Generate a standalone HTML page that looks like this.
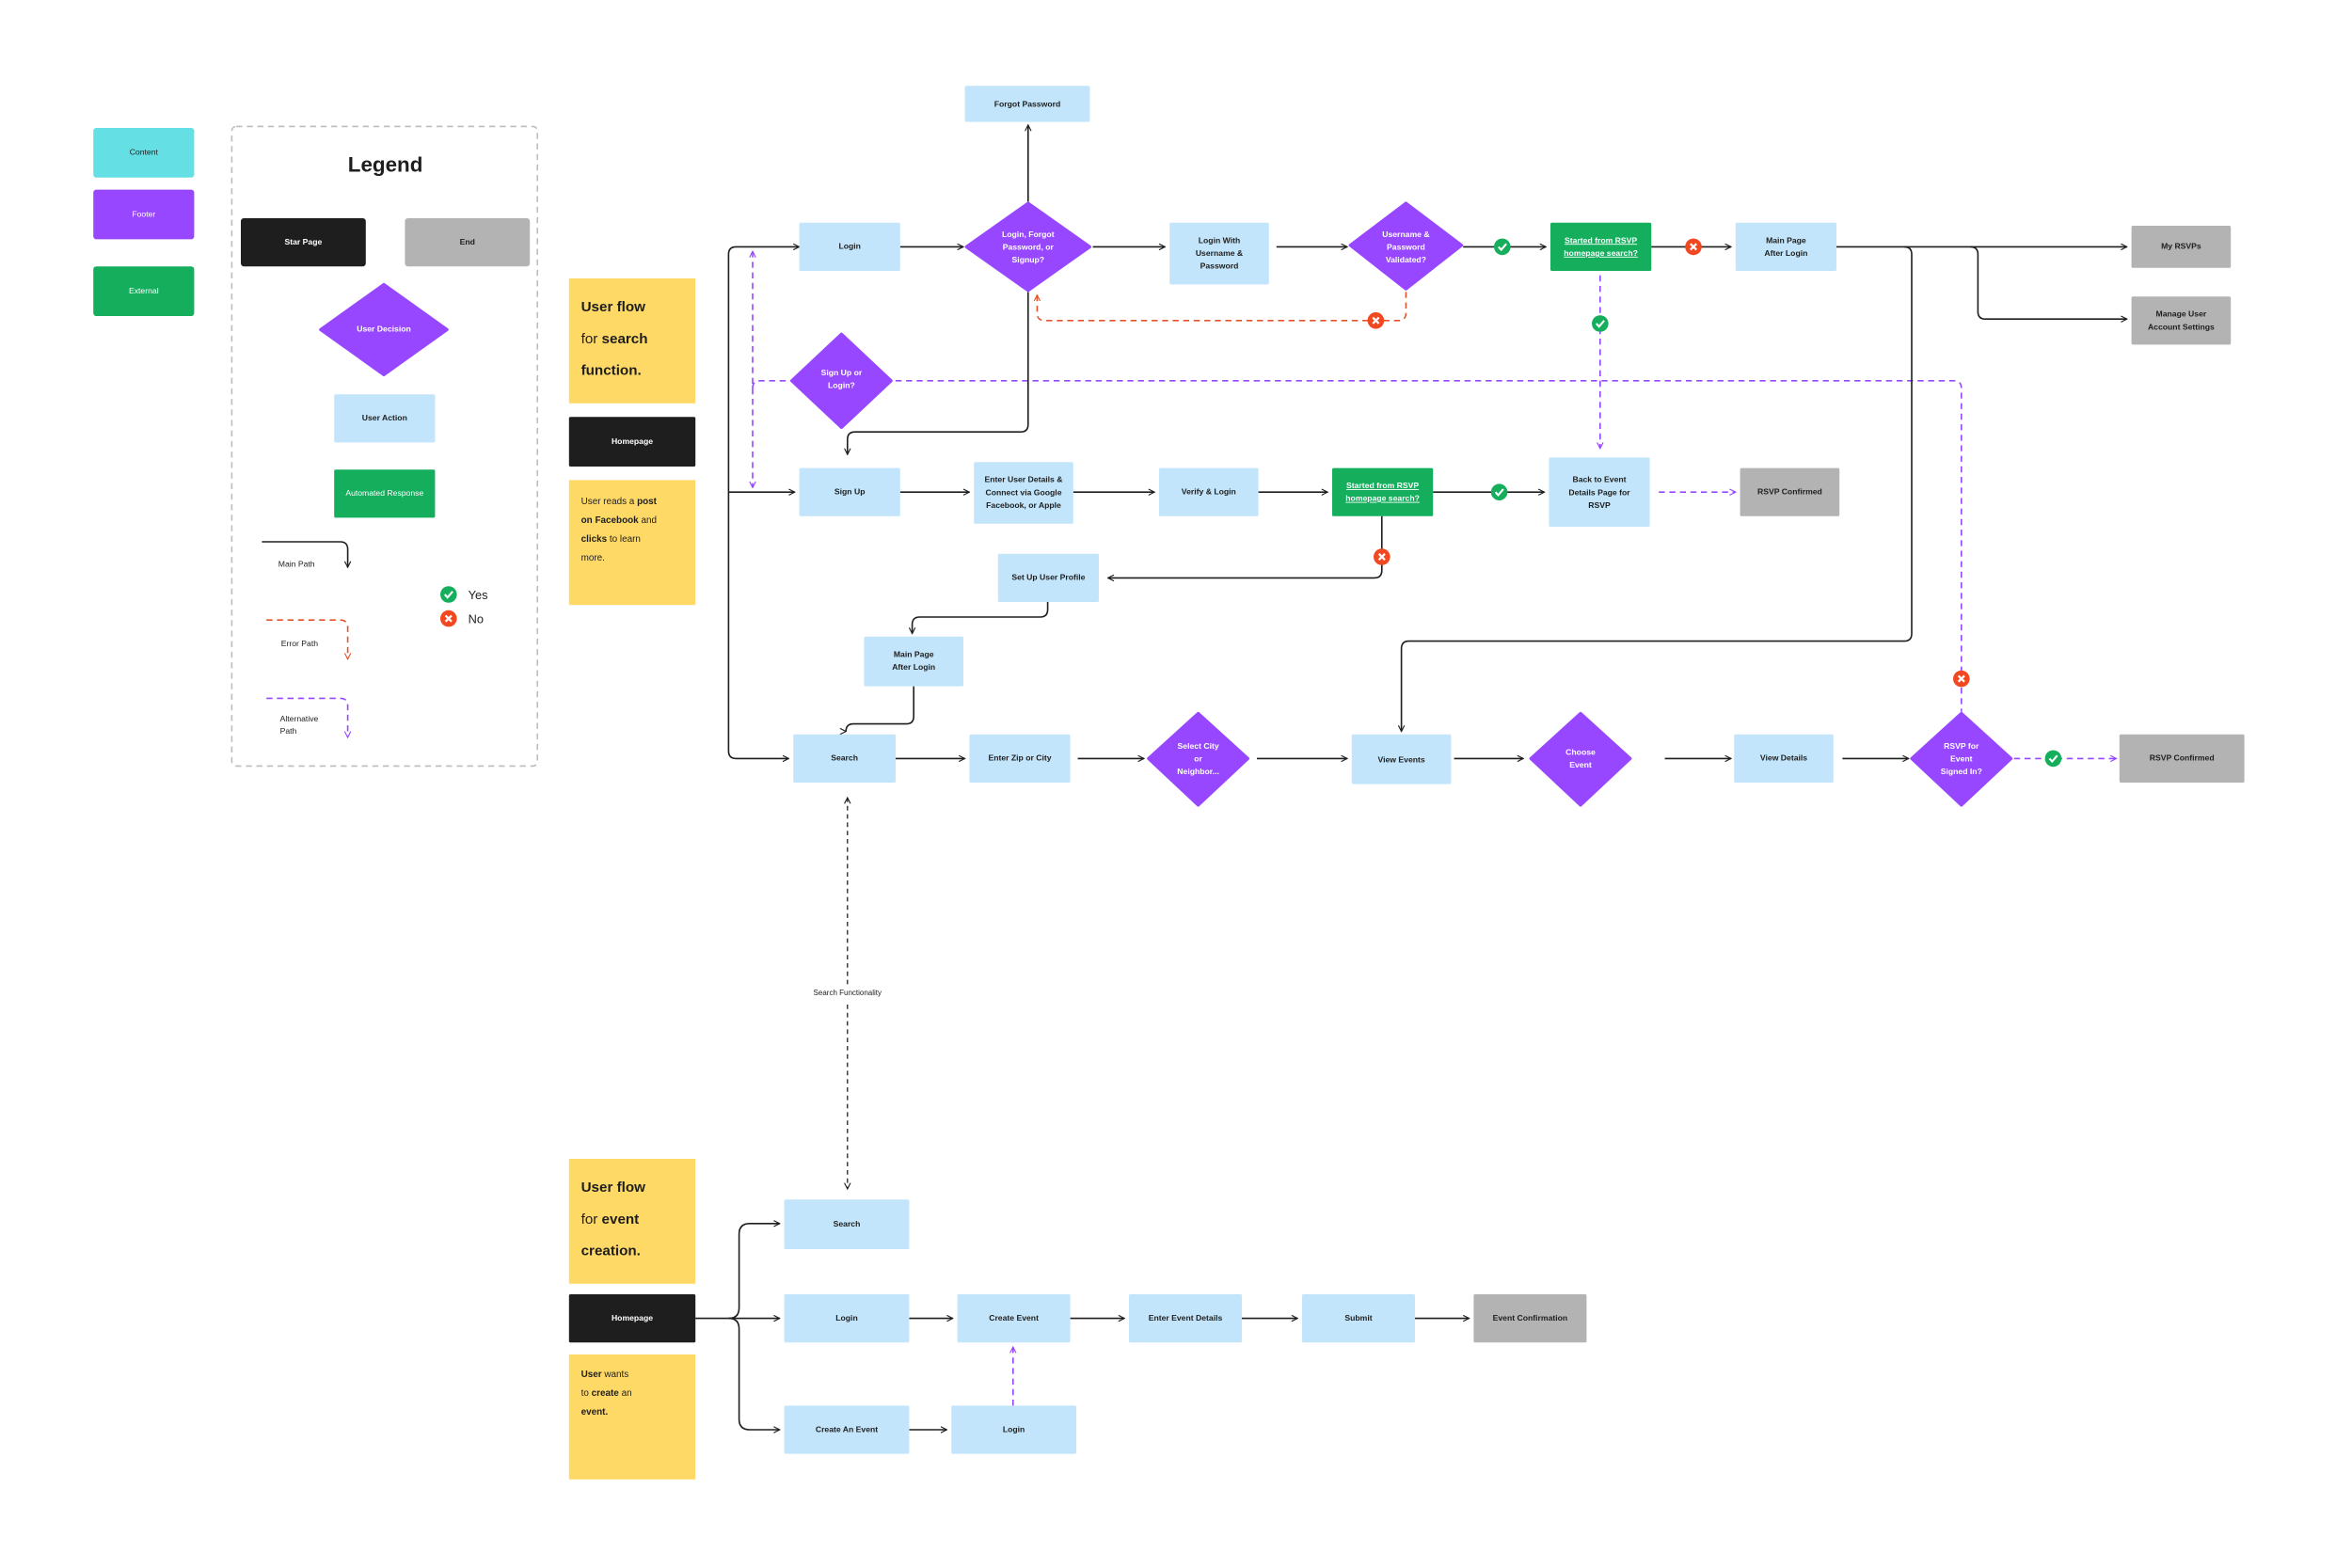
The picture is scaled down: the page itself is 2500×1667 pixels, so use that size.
<!DOCTYPE html>
<html><head><meta charset="utf-8"><style>
html,body{margin:0;padding:0;background:#fff}
svg{display:block}
text{font-family:"Liberation Sans",sans-serif}
.n{font-size:5.4px;font-weight:bold;fill:#1e1e1e;text-anchor:middle;dominant-baseline:middle}
.w{fill:#fff}
.b{fill:#C2E5FB}
.p{fill:#9747FF}
.g{fill:#14AE5C}
.gr{fill:#B3B3B3}
.k{fill:#1E1E1E}
.y{fill:#FFD966}
.l{fill:none;stroke:#1e1e1e;stroke-width:1}
.pd{fill:none;stroke:#9747FF;stroke-width:1;stroke-dasharray:4 3}
.od{fill:none;stroke:#E5532C;stroke-width:1;stroke-dasharray:4 3}
.kd{fill:none;stroke:#1e1e1e;stroke-width:0.8;stroke-dasharray:3 2.5}
</style></head><body>
<svg width="2500" height="1667" viewBox="0 0 1562.5 1041.875" xmlns="http://www.w3.org/2000/svg">
<defs>
<marker id="a" viewBox="0 0 10 10" refX="9" refY="5" markerWidth="5" markerHeight="5" orient="auto-start-reverse" markerUnits="userSpaceOnUse"><path d="M1 1 L9 5 L1 9" fill="none" stroke="#1e1e1e" stroke-width="1.4"/></marker>
<marker id="ap" viewBox="0 0 10 10" refX="9" refY="5" markerWidth="5" markerHeight="5" orient="auto-start-reverse" markerUnits="userSpaceOnUse"><path d="M1 1 L9 5 L1 9" fill="none" stroke="#9747FF" stroke-width="1.4"/></marker>
<marker id="ao" viewBox="0 0 10 10" refX="9" refY="5" markerWidth="5" markerHeight="5" orient="auto-start-reverse" markerUnits="userSpaceOnUse"><path d="M1 1 L9 5 L1 9" fill="none" stroke="#E5532C" stroke-width="1.4"/></marker>
<g id="ck"><circle r="5.5" fill="#14AE5C"/><path d="M-2.5 0 L-0.7 2 L2.7 -2" fill="none" stroke="#fff" stroke-width="1.3"/></g>
<g id="xx"><circle r="5.5" fill="#F24822"/><path d="M-2 -2 L2 2 M2 -2 L-2 2" fill="none" stroke="#fff" stroke-width="1.4"/></g>
</defs>

<!-- Left legend swatches -->
<rect x="62" y="85" width="67" height="33" rx="2" fill="#64E0E4"/><text class="n" x="95.5" y="101.5" style="font-weight:normal">Content</text>
<rect x="62" y="126" width="67" height="33" rx="2" class="p"/><text class="n w" x="95.5" y="142.5" style="font-weight:normal">Footer</text>
<rect x="62" y="177" width="67" height="33" rx="2" class="g"/><text class="n w" x="95.5" y="193.5" style="font-weight:normal">External</text>

<!-- Legend box -->
<rect x="154" y="84" width="203" height="425" rx="3" fill="none" stroke="#bdbdbd" stroke-width="1" stroke-dasharray="4 3"/>
<text x="256" y="114" text-anchor="middle" style="font-size:14px;font-weight:bold;fill:#1e1e1e">Legend</text>
<rect x="160" y="145" width="83" height="32" rx="2" class="k"/><text class="n w" x="201.5" y="161">Star Page</text>
<rect x="269" y="145" width="83" height="32" rx="2" class="gr"/><text class="n" x="310.5" y="161">End</text>
<polygon points="255,189 297,219 255,249 213,219" class="p" stroke="#9747FF" stroke-linejoin="round" stroke-width="2"/><text class="n w" x="255" y="219">User Decision</text>
<rect x="222" y="262" width="67" height="32" rx="1" class="b"/><text class="n" x="255.5" y="278">User Action</text>
<rect x="222" y="312" width="67" height="32" rx="1" class="g"/><text class="n w" x="255.5" y="328" style="font-weight:normal">Automated Response</text>
<path class="l" d="M174 360 H226 Q231 360 231 365 V377" marker-end="url(#a)"/>
<text class="n" x="197" y="375" style="font-weight:normal">Main Path</text>
<use href="#ck" x="298" y="395"/><text x="311" y="398" style="font-size:8px;fill:#1e1e1e">Yes</text>
<use href="#xx" x="298" y="411"/><text x="311" y="414" style="font-size:8px;fill:#1e1e1e">No</text>
<path class="od" d="M177 412 H226 Q231 412 231 417 V438" marker-end="url(#ao)"/>
<text class="n" x="199" y="428" style="font-weight:normal">Error Path</text>
<path class="pd" d="M177 464 H226 Q231 464 231 469 V490" marker-end="url(#ap)"/>
<text class="n" x="186" y="478" style="font-weight:normal;text-anchor:start">Alternative</text>
<text class="n" x="186" y="486" style="font-weight:normal;text-anchor:start">Path</text>

<!-- Sticky notes -->
<rect x="378" y="185" width="84" height="83" class="y"/>
<text x="386" y="207" style="font-size:9.5px;fill:#1e1e1e"><tspan font-weight="bold">User flow</tspan><tspan x="386" dy="21">for </tspan><tspan font-weight="bold">search</tspan><tspan x="386" dy="21" font-weight="bold">function.</tspan></text>
<rect x="378" y="277" width="84" height="33" rx="1" class="k"/><text class="n w" x="420" y="293.5">Homepage</text>
<rect x="378" y="319" width="84" height="83" class="y"/>
<text x="386" y="335" style="font-size:6.2px;fill:#1e1e1e"><tspan>User reads a </tspan><tspan font-weight="bold">post</tspan><tspan x="386" dy="12.5" font-weight="bold">on Facebook</tspan><tspan> and</tspan><tspan x="386" dy="12.5" font-weight="bold">clicks</tspan><tspan> to learn</tspan><tspan x="386" dy="12.5">more.</tspan></text>

<rect x="378" y="770" width="84" height="83" class="y"/>
<text x="386" y="792" style="font-size:9.5px;fill:#1e1e1e"><tspan font-weight="bold">User flow</tspan><tspan x="386" dy="21">for </tspan><tspan font-weight="bold">event</tspan><tspan x="386" dy="21" font-weight="bold">creation.</tspan></text>
<rect x="378" y="860" width="84" height="32" rx="1" class="k"/><text class="n w" x="420" y="876">Homepage</text>
<rect x="378" y="900" width="84" height="83" class="y"/>
<text x="386" y="915" style="font-size:6.2px;fill:#1e1e1e"><tspan font-weight="bold">User</tspan><tspan> wants</tspan><tspan x="386" dy="12.5">to </tspan><tspan font-weight="bold">create</tspan><tspan> an</tspan><tspan x="386" dy="12.5" font-weight="bold">event.</tspan></text>

<!-- Connectors (main) -->
<path class="l" d="M531 164 H489 Q484 164 484 169 V499 Q484 504 489 504 H524" marker-start="url(#a)" marker-end="url(#a)"/>
<path class="l" d="M484 327 H528" marker-end="url(#a)"/>
<path class="pd" d="M500 167 V324" marker-start="url(#ap)" marker-end="url(#ap)"/>
<path class="pd" d="M500 258 Q500 253 505 253 H1298 Q1303 253 1303 258 V473"/>
<path class="l" d="M598 164 H640" marker-end="url(#a)"/>
<path class="l" d="M683 134 V83" marker-end="url(#a)"/>
<path class="l" d="M683 194 V282 Q683 287 678 287 H568 Q563 287 563 292 V302" marker-end="url(#a)"/>
<path class="l" d="M726 164 H774" marker-end="url(#a)"/>
<path class="l" d="M848 164 H895" marker-end="url(#a)"/>
<path class="l" d="M972 164 H1027" marker-end="url(#a)"/>
<path class="od" d="M934 194 V208 Q934 213 929 213 H694 Q689 213 689 208 V196" marker-end="url(#ao)"/>
<path class="l" d="M1097 164 H1150" marker-end="url(#a)"/>
<path class="pd" d="M1063 183 V298" marker-end="url(#ap)"/>
<path class="l" d="M1220 164 H1413" marker-end="url(#a)"/>
<path class="l" d="M1309 164 Q1314 164 1314 169 V207 Q1314 212 1319 212 H1413" marker-end="url(#a)"/>
<path class="l" d="M1265 164 Q1270 164 1270 169 V421 Q1270 426 1265 426 H936 Q931 426 931 431 V486" marker-end="url(#a)"/>
<path class="l" d="M598 327 H644" marker-end="url(#a)"/>
<path class="l" d="M713 327 H767" marker-end="url(#a)"/>
<path class="l" d="M836 327 H882" marker-end="url(#a)"/>
<path class="l" d="M952 327 H1026" marker-end="url(#a)"/>
<path class="pd" d="M1102 327 H1153" marker-end="url(#ap)"/>
<path class="l" d="M918 343 V379 Q918 384 913 384 H736" marker-end="url(#a)"/>
<path class="l" d="M696 400 V405 Q696 410 691 410 H611 Q606 410 606 415 V421" marker-end="url(#a)"/>
<path class="l" d="M607 456 V476 Q607 481 602 481 H567 Q562 481 562 486 V486" marker-end="url(#a)"/>
<path class="l" d="M595 504 H641" marker-end="url(#a)"/>
<path class="l" d="M716 504 H760" marker-end="url(#a)"/>
<path class="l" d="M835 504 H895" marker-end="url(#a)"/>
<path class="l" d="M966 504 H1012" marker-end="url(#a)"/>
<path class="l" d="M1106 504 H1150" marker-end="url(#a)"/>
<path class="l" d="M1224 504 H1268" marker-end="url(#a)"/>
<path class="pd" d="M1338 504 H1406" marker-end="url(#ap)"/>
<path class="kd" d="M563 530 V790" marker-start="url(#a)" marker-end="url(#a)"/>
<rect x="534" y="655" width="58" height="10" fill="#fff"/>
<text class="n" x="563" y="660" style="font-weight:normal;font-size:5px">Search Functionality</text>

<!-- Bottom connectors -->
<path class="l" d="M462 876 H484"/>
<path class="l" d="M484 876 Q491 876 491 869 V820 Q491 813 498 813 H518" marker-end="url(#a)"/>
<path class="l" d="M484 876 H518" marker-end="url(#a)"/>
<path class="l" d="M484 876 Q491 876 491 883 V943 Q491 950 498 950 H518" marker-end="url(#a)"/>
<path class="l" d="M604 876 H633" marker-end="url(#a)"/>
<path class="l" d="M711 876 H747" marker-end="url(#a)"/>
<path class="l" d="M825 876 H862" marker-end="url(#a)"/>
<path class="l" d="M940 876 H976" marker-end="url(#a)"/>
<path class="l" d="M604 950 H629" marker-end="url(#a)"/>
<path class="pd" d="M673 934 V895" marker-end="url(#ap)"/>

<!-- Nodes -->
<rect x="641" y="57" width="83" height="24" rx="1" class="b"/><text class="n" x="682.5" y="69.5">Forgot Password</text>
<rect x="531" y="148" width="67" height="32" rx="1" class="b"/><text class="n" x="564.5" y="164">Login</text>
<polygon points="683,135 724,164 683,193 642,164" class="p" stroke="#9747FF" stroke-width="2" stroke-linejoin="round"/>
<text class="n w" x="683" y="156">Login, Forgot</text><text class="n w" x="683" y="164.5">Password, or</text><text class="n w" x="683" y="173">Signup?</text>
<rect x="777" y="148" width="66" height="41" rx="1" class="b"/>
<text class="n" x="810" y="160">Login With</text><text class="n" x="810" y="168.5">Username &amp;</text><text class="n" x="810" y="177">Password</text>
<polygon points="934,135 971,163 934,192 897,163" class="p" stroke="#9747FF" stroke-width="2" stroke-linejoin="round"/>
<text class="n w" x="934" y="156">Username &amp;</text><text class="n w" x="934" y="164.5">Password</text><text class="n w" x="934" y="173">Validated?</text>
<rect x="1030" y="148" width="67" height="32" rx="1" class="g"/>
<text class="n w" x="1063.5" y="160" text-decoration="underline">Started from RSVP</text><text class="n w" x="1063.5" y="168.5" text-decoration="underline">homepage search?</text>
<rect x="1153" y="148" width="67" height="32" rx="1" class="b"/><text class="n" x="1186.5" y="160">Main Page</text><text class="n" x="1186.5" y="168.5">After Login</text>
<rect x="1416" y="150" width="66" height="28" rx="1" class="gr"/><text class="n" x="1449" y="164">My RSVPs</text>
<rect x="1416" y="197" width="66" height="32" rx="1" class="gr"/><text class="n" x="1449" y="209">Manage User</text><text class="n" x="1449" y="217.5">Account Settings</text>

<polygon points="559,222 592,253 559,284 526,253" class="p" stroke="#9747FF" stroke-width="2" stroke-linejoin="round"/>
<text class="n w" x="559" y="248">Sign Up or</text><text class="n w" x="559" y="256.5">Login?</text>
<rect x="531" y="311" width="67" height="32" rx="1" class="b"/><text class="n" x="564.5" y="327">Sign Up</text>
<rect x="647" y="307" width="66" height="41" rx="1" class="b"/>
<text class="n" x="680" y="319">Enter User Details &amp;</text><text class="n" x="680" y="327.5">Connect via Google</text><text class="n" x="680" y="336">Facebook, or Apple</text>
<rect x="770" y="311" width="66" height="32" rx="1" class="b"/><text class="n" x="803" y="327">Verify &amp; Login</text>
<rect x="885" y="311" width="67" height="32" rx="1" class="g"/>
<text class="n w" x="918.5" y="323" text-decoration="underline">Started from RSVP</text><text class="n w" x="918.5" y="331.5" text-decoration="underline">homepage search?</text>
<rect x="1029" y="304" width="67" height="46" rx="1" class="b"/>
<text class="n" x="1062.5" y="319">Back to Event</text><text class="n" x="1062.5" y="327.5">Details Page for</text><text class="n" x="1062.5" y="336">RSVP</text>
<rect x="1156" y="311" width="66" height="32" rx="1" class="gr"/><text class="n" x="1189" y="327">RSVP Confirmed</text>
<rect x="663" y="368" width="67" height="32" rx="1" class="b"/><text class="n" x="696.5" y="384">Set Up User Profile</text>
<rect x="574" y="423" width="66" height="33" rx="1" class="b"/><text class="n" x="607" y="435">Main Page</text><text class="n" x="607" y="443.5">After Login</text>

<rect x="527" y="488" width="68" height="32" rx="1" class="b"/><text class="n" x="561" y="504">Search</text>
<rect x="644" y="488" width="67" height="32" rx="1" class="b"/><text class="n" x="677.5" y="504">Enter Zip or City</text>
<polygon points="796,474 829,504 796,535 763,504" class="p" stroke="#9747FF" stroke-width="2" stroke-linejoin="round"/>
<text class="n w" x="796" y="496">Select City</text><text class="n w" x="796" y="504.5">or</text><text class="n w" x="796" y="513">Neighbor...</text>
<rect x="898" y="488" width="66" height="33" rx="1" class="b"/><text class="n" x="931" y="505">View Events</text>
<polygon points="1050,474 1083,504 1050,535 1017,504" class="p" stroke="#9747FF" stroke-width="2" stroke-linejoin="round"/>
<text class="n w" x="1050" y="500">Choose</text><text class="n w" x="1050" y="508.5">Event</text>
<rect x="1152" y="488" width="66" height="32" rx="1" class="b"/><text class="n" x="1185" y="504">View Details</text>
<polygon points="1303,474 1336,504 1303,535 1270,504" class="p" stroke="#9747FF" stroke-width="2" stroke-linejoin="round"/>
<text class="n w" x="1303" y="496">RSVP for</text><text class="n w" x="1303" y="504.5">Event</text><text class="n w" x="1303" y="513">Signed In?</text>
<rect x="1408" y="488" width="83" height="32" rx="1" class="gr"/><text class="n" x="1449.5" y="504">RSVP Confirmed</text>

<rect x="521" y="797" width="83" height="33" rx="1" class="b"/><text class="n" x="562.5" y="813.5">Search</text>
<rect x="521" y="860" width="83" height="32" rx="1" class="b"/><text class="n" x="562.5" y="876">Login</text>
<rect x="636" y="860" width="75" height="32" rx="1" class="b"/><text class="n" x="673.5" y="876">Create Event</text>
<rect x="750" y="860" width="75" height="32" rx="1" class="b"/><text class="n" x="787.5" y="876">Enter Event Details</text>
<rect x="865" y="860" width="75" height="32" rx="1" class="b"/><text class="n" x="902.5" y="876">Submit</text>
<rect x="979" y="860" width="75" height="32" rx="1" class="gr"/><text class="n" x="1016.5" y="876">Event Confirmation</text>
<rect x="521" y="934" width="83" height="32" rx="1" class="b"/><text class="n" x="562.5" y="950">Create An Event</text>
<rect x="632" y="934" width="83" height="32" rx="1" class="b"/><text class="n" x="673.5" y="950">Login</text>

<!-- Check / X icons -->
<use href="#ck" x="998" y="164"/>
<use href="#xx" x="1125" y="164"/>
<use href="#xx" x="914" y="213"/>
<use href="#ck" x="1063" y="215"/>
<use href="#ck" x="996" y="327"/>
<use href="#xx" x="918" y="370"/>
<use href="#xx" x="1303" y="451"/>
<use href="#ck" x="1364" y="504"/>
</svg>
</body></html>
